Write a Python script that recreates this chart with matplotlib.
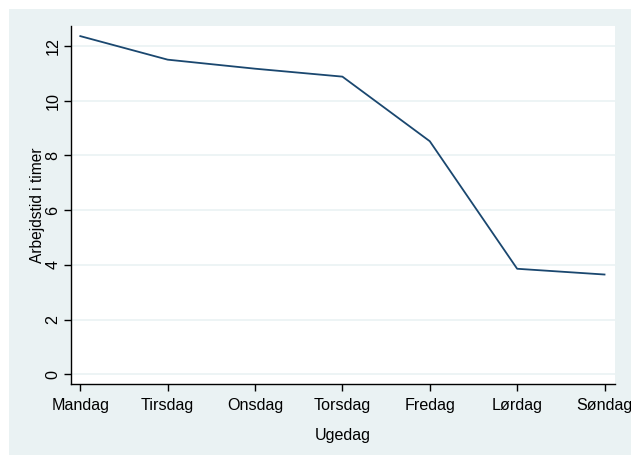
import matplotlib
matplotlib.use("Agg")
import matplotlib.pyplot as plt
from matplotlib.patches import Rectangle

days = ["Mandag", "Tirsdag", "Onsdag", "Torsdag", "Fredag", "Lørdag", "Søndag"]
hours = [12.36, 11.5, 11.17, 10.88, 8.52, 3.86, 3.65]
yticks = [0, 2, 4, 6, 8, 10, 12]

plt.rcParams['font.family'] = ['Liberation Sans', 'DejaVu Sans']

W, H = 631, 455
fig = plt.figure(figsize=(W/100, H/100), dpi=100, facecolor='white')
bg = "#eaf2f3"
fig.patches.append(Rectangle((9/W, 0), 1 - 9/W, 1 - 9/H, transform=fig.transFigure,
                             facecolor=bg, edgecolor='none', zorder=-10))

ax = fig.add_axes([70.7/W, 1 - 384/H, (615 - 70.7)/W, (384 - 26)/H])
ax.set_facecolor('white')
x = list(range(len(days)))
ax.plot(x, hours, color="#1a476f", linewidth=1.3, zorder=3)

ax.set_xlim(-0.11, 6.12)
ax.set_ylim(-0.35, 12.73)
ax.set_yticks(yticks)
ax.set_yticklabels([str(v) for v in yticks], rotation=90, va='center')
ax.set_xticks(x)
ax.set_xticklabels(days)
ax.grid(axis='y', color=bg, linewidth=1.2, zorder=0)
ax.set_axisbelow(True)

for s in ['top', 'right']:
    ax.spines[s].set_visible(False)
for s in ['left', 'bottom']:
    ax.spines[s].set_color('black')
    ax.spines[s].set_linewidth(1.0)

ax.tick_params(axis='both', colors='black', labelsize=11.6, length=5, width=1, direction='out')
ax.tick_params(axis='y', pad=2.5)
ax.tick_params(axis='x', pad=5)

ax.set_xlabel("Ugedag", fontsize=11.6, labelpad=11)
ax.set_ylabel("Arbejdstid i timer", fontsize=11.2, labelpad=0)

fig.savefig("out.png", dpi=100, facecolor='white')
